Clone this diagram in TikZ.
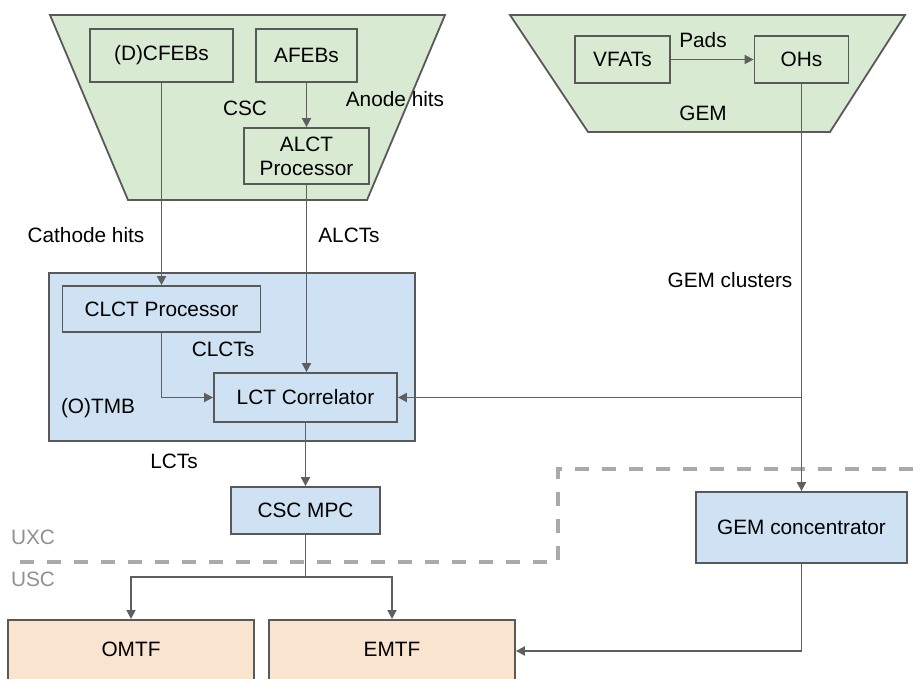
\documentclass[tikz,border=0pt]{standalone}
\usepackage{fontspec}
\setmainfont{Liberation Sans}
\usetikzlibrary{arrows.meta}
\definecolor{cgreen}{HTML}{D9EAD3}
\definecolor{cblue}{HTML}{CFE2F3}
\definecolor{corange}{HTML}{F8E4CF}
\definecolor{cborder}{HTML}{595959}
\definecolor{cline}{HTML}{5F5F5F}
\definecolor{cdash}{HTML}{AAAAAA}
\tikzset{
  every node/.style={font=\fontsize{20.8}{24}\selectfont, text=black},
  box/.style={draw=cborder, line width=1.8pt, inner sep=0pt, align=center},
  gbox/.style={box, fill=cgreen},
  bbox/.style={box, fill=cblue},
  obox/.style={box, fill=corange},
  trap/.style={draw=cborder, line width=1.8pt, fill=cgreen},
  arr/.style={draw=cline, line width=1.8pt, -{Triangle[length=9pt,width=9pt]}},
  conn/.style={draw=cline, line width=1.8pt},
  zone/.style={draw=cdash, line width=3.5pt, dash pattern=on 14pt off 13pt},
  lbl/.style={inner sep=0pt},
  glbl/.style={inner sep=0pt, text=cdash!85!black}
}
\begin{document}
\begin{tikzpicture}[x=1pt, y=-1pt]
\clip (0,0) rectangle (913,679);
\useasboundingbox (0,0) rectangle (913,679);
\fill[white] (0,0) rectangle (913,679);
% trapezoids
\draw[trap] (50,15) -- (445,15) -- (367,200) -- (128,200) -- cycle;
\draw[trap] (510,15) -- (905,15) -- (830,132) -- (588,132) -- cycle;
% CSC boxes
\node[gbox, minimum width=143, minimum height=53] (dcfeb) at (161.5,55.5) {(D)CFEBs};
\node[gbox, minimum width=101, minimum height=53] (afeb) at (306.5,55.5) {AFEBs};
\node[gbox, minimum width=125, minimum height=56] (alct) at (306.5,156) {ALCT\\Processor};
% GEM boxes
\node[gbox, minimum width=95, minimum height=47] (vfat) at (622.5,59.5) {VFATs};
\node[gbox, minimum width=94, minimum height=47] (ohs) at (801.5,59.5) {OHs};
% TMB
\node[bbox, minimum width=366, minimum height=168] (otmb) at (232,357) {};
\node[bbox, minimum width=198, minimum height=46] (clctp) at (161.5,309) {CLCT Processor};
\node[bbox, minimum width=183, minimum height=49] (lctc) at (305.5,397.5) {LCT Correlator};
\node[bbox, minimum width=149, minimum height=47] (mpc) at (305.5,510.5) {CSC MPC};
\node[bbox, minimum width=211, minimum height=71] (gemc) at (801.5,527.5) {GEM concentrator};
% track finders
\node[obox, minimum width=246, minimum height=90, anchor=north] (omtf) at (131,619) {};
\node[lbl] (omtft) at (131,649) {OMTF};
\node[obox, minimum width=246, minimum height=90, anchor=north] (emtf) at (392,619) {};
\node[lbl] (emtft) at (392,649) {EMTF};
% labels
\node[lbl] (lcsc) at (245,108) {CSC};
\node[lbl] (lanode) at (395,99) {Anode hits};
\node[lbl] (lpads) at (703,40) {Pads};
\node[lbl] (lgem) at (703,113) {GEM};
\node[lbl] (lcath) at (86,235) {Cathode hits};
\node[lbl] (lalcts) at (349,235) {ALCTs};
\node[lbl] (lgemcl) at (730,280) {GEM clusters};
\node[lbl] (lclcts) at (223,349) {CLCTs};
\node[lbl] (lotmb) at (98,408) {(O)TMB};
\node[lbl] (llcts) at (174,461) {LCTs};
\node[glbl] (luxc) at (33,537) {UXC};
\node[glbl] (lusc) at (33,579) {USC};
% zone boundary
\draw[zone] (913,469) -- (558,469) -- (558,562) -- (8,562);
% connectors
\draw[arr] (dcfeb.south) -- (dcfeb.south |- clctp.north);
\draw[arr] (afeb.south) -- (alct.north);
\draw[arr] (alct.south) -- (alct.south |- lctc.north);
\draw[arr] (clctp.south) |- (lctc.west);
\draw[arr] (vfat.east) -- (ohs.west);
\draw[arr] (ohs.south) -- (gemc.north);
\coordinate (gj) at (ohs.south |- lctc.east);
\draw[arr] (gj) -- (lctc.east);
\draw[arr] (lctc.south) -- (mpc.north);
\coordinate (split) at (305.5,577);
\draw[conn] (mpc.south) -- (split);
\draw[arr] (split) -| (omtf.north);
\draw[arr] (split) -| (emtf.north);
\coordinate (ein) at (emtf.east |- 0,651);
\draw[arr] (gemc.south) |- (ein);
\end{tikzpicture}
\end{document}
